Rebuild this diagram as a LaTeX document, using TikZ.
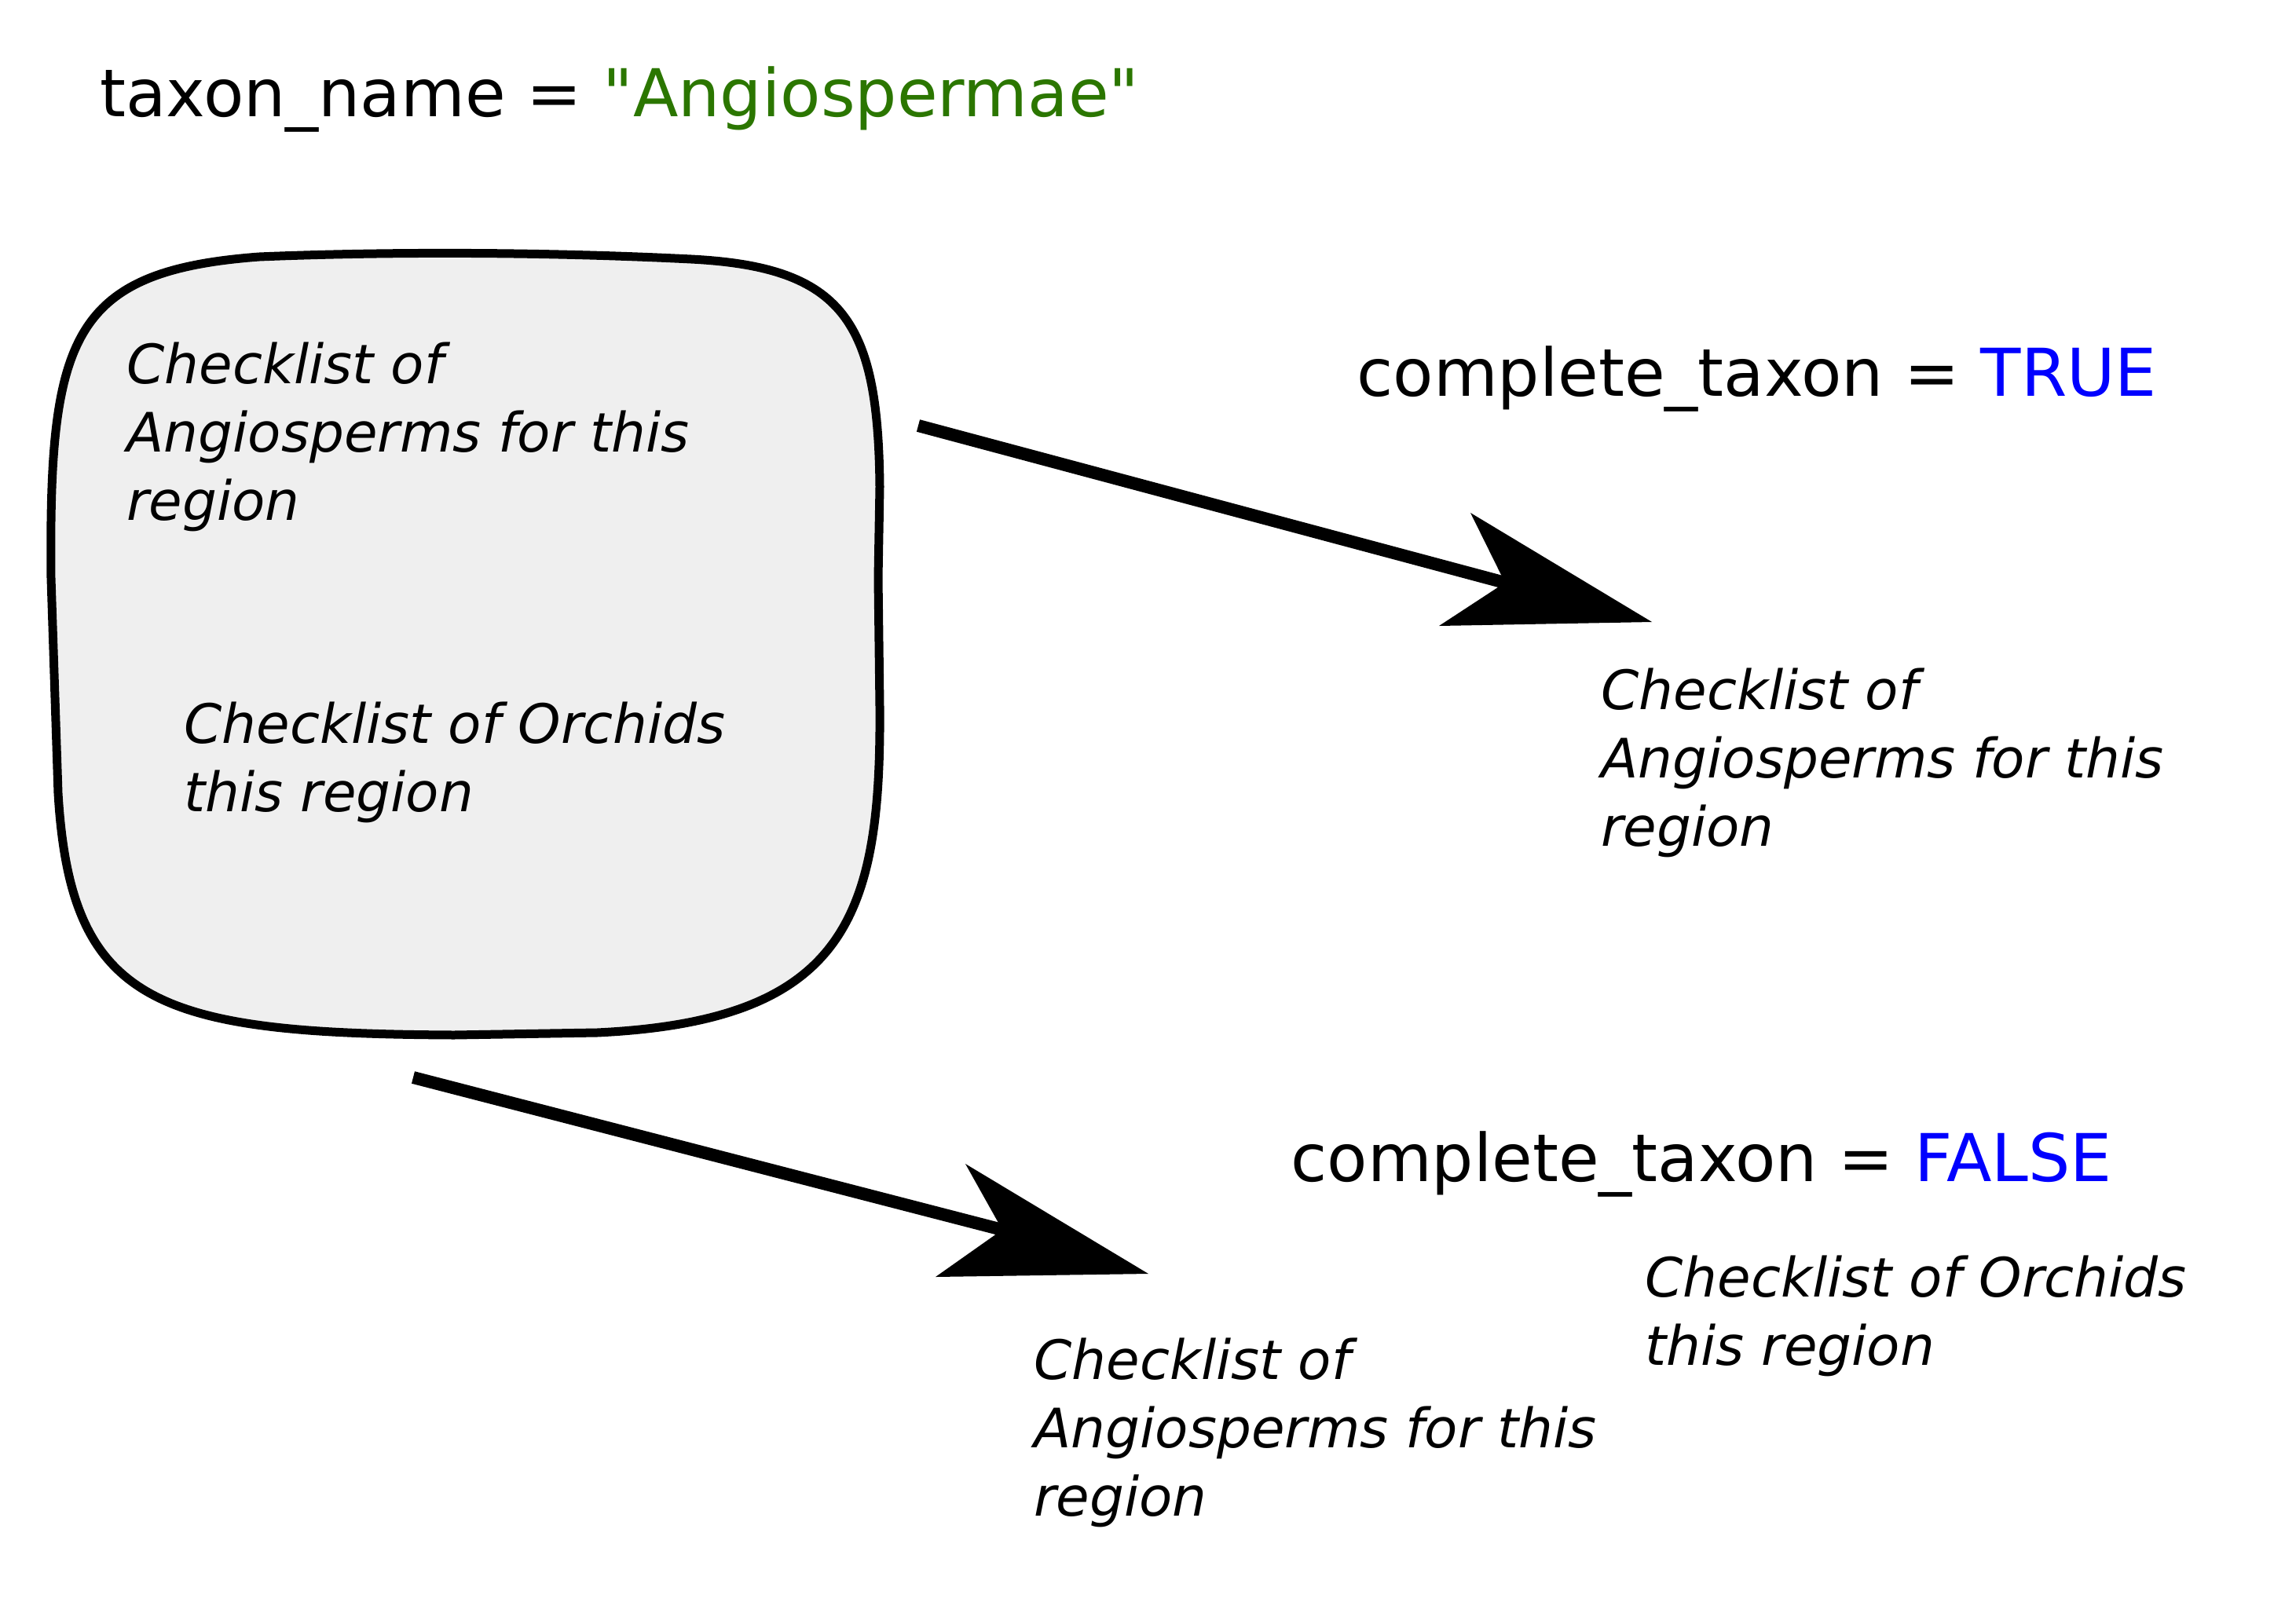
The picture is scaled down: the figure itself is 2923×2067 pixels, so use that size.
\documentclass[tikz,border=0pt]{standalone}
\usepackage{fontspec}
\setmainfont{DejaVu Sans}[Ligatures=TeXOff]
\definecolor{strgreen}{RGB}{43,118,0}
\definecolor{boolblue}{RGB}{0,0,255}
\definecolor{boxfill}{RGB}{239,239,239}
\begin{document}
\begin{tikzpicture}[x=0.5pt,y=-0.5pt,
  code/.style={anchor=base west,inner sep=0pt,font=\fontsize{42}{50}\selectfont},
  note/.style={anchor=base west,inner sep=0pt,align=left,font=\fontsize{34.6}{43.5}\selectfont\itshape},
  boxline/.style={line width=5.5pt,fill=boxfill,draw=black,line join=round},
  shaft/.style={line width=8pt,draw=black},
  head/.style={fill=black,draw=none}]
\useasboundingbox (0,0) rectangle (2923,2067);

% region box
\path[boxline] (65,736)
  .. controls (62,430) and (90,345) .. (330,327)
  .. controls (500,320) and (700,321) .. (880,330)
  .. controls (1075,340) and (1118,410) .. (1120,620)
  -- (1118,736)
  -- (1120,900)
  .. controls (1122,1170) and (1075,1300) .. (760,1315)
  -- (578,1318)
  .. controls (200,1316) and (90,1280) .. (74,1010)
  -- cycle;

% multi-line nodes: base anchor is the baseline of the last line
\node[code] (title) at (127,148) {taxon\_name = \textcolor{strgreen}{"Angiospermae"}};
\node[note] (inA) at (161,662) {Checklist of\\Angiosperms for this\\region};
\node[note] (inO) at (234,1033) {Checklist of Orchids\\this region};

\node[code] (ctrue) at (1727,504) {complete\_taxon = \textcolor{boolblue}{TRUE}};
\node[note] (outA) at (2038,1077) {Checklist of\\Angiosperms for this\\region};

\node[code] (cfalse) at (1643,1504) {complete\_taxon = \textcolor{boolblue}{FALSE}};
\node[note] (outA2) at (1316,1930) {Checklist of\\Angiosperms for this\\region};
\node[note] (outO2) at (2094,1738) {Checklist of Orchids\\this region};

% arrow 1
\coordinate (s1) at (1169,542);
\coordinate (n1) at (1916,742);
\coordinate (t1) at (2103,792);
\coordinate (b1a) at (1872,653);
\coordinate (b1b) at (1832,797);
\draw[shaft] (s1) -- (n1);
\path[head] (t1) -- (b1a) -- (n1) -- (b1b) -- cycle;

% arrow 2
\coordinate (s2) at (526,1372);
\coordinate (n2) at (1276,1566);
\coordinate (t2) at (1462,1622);
\coordinate (b2a) at (1229,1482);
\coordinate (b2b) at (1191,1626);
\draw[shaft] (s2) -- (n2);
\path[head] (t2) -- (b2a) -- (n2) -- (b2b) -- cycle;
\end{tikzpicture}
\end{document}
